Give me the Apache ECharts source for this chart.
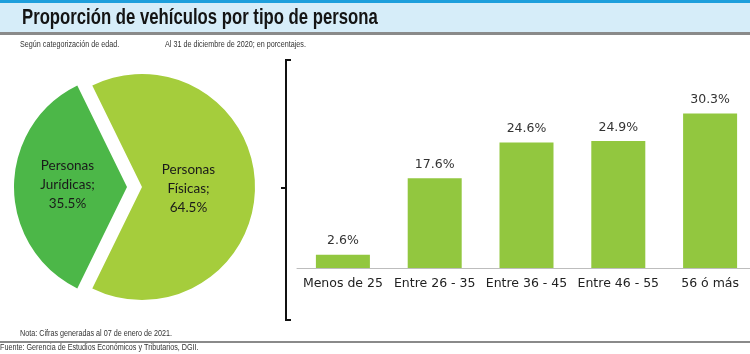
<!DOCTYPE html>
<html>
<head>
<meta charset="utf-8">
<script src="https://cdn.jsdelivr.net/npm/echarts@6/dist/echarts.min.js"></script>
<style>
  html, body { margin: 0; padding: 0; background: #fff; }
  #chart { width: 750px; height: 354px; }
</style>
</head>
<body>
<div id="chart"></div>
<script>
// tipos de persona (pastel)
var tipoNombres = ['Personas\nFísicas;', 'Personas\nJurídicas;'];
var tipoValores = [64.5, 35.5];

// rangos de edad (barras)
var edades = ['Menos de 25', 'Entre 26 - 35', 'Entre 36 - 45', 'Entre 46 - 55', '56 ó más'];
var edadValores = [2.6, 17.6, 24.6, 24.9, 30.3];

var chart = echarts.init(document.getElementById('chart'));

var sans = '"Liberation Sans", Arial, sans-serif';

// texto pequeño condensado (no hay fuente narrow instalada)
function smallText(x, y, txt) {
  return {
    type: 'text', x: x, y: y, scaleX: 0.8,
    style: { text: txt, font: '9px ' + sans, fill: '#333', textVerticalAlign: 'middle' }
  };
}

chart.setOption({
  animation: false,
  graphic: [
    // cabecera
    { type: 'rect', shape: { x: 0, y: 0, width: 750, height: 3 }, style: { fill: '#1e9fdc' } },
    { type: 'rect', shape: { x: 0, y: 3, width: 750, height: 29 }, style: { fill: '#d6edf9' } },
    { type: 'rect', shape: { x: 0, y: 32, width: 750, height: 3 }, style: { fill: '#8a8a8a' } },
    { type: 'text', x: 22, y: 18, scaleX: 0.76, style: {
        text: 'Proporción de vehículos por tipo de persona',
        font: 'bold 22px ' + sans, fill: '#141414', textVerticalAlign: 'middle'
      } },
    smallText(20, 45, 'Según categorización de edad.'),
    smallText(165, 45, 'Al 31 de diciembre de 2020; en porcentajes.'),
    // llave
    { type: 'polyline', shape: { points: [[291, 60], [286, 60], [286, 320], [291, 320]] },
      style: { stroke: '#111', lineWidth: 2, fill: null } },
    { type: 'line', shape: { x1: 281, y1: 188, x2: 286, y2: 188 }, style: { stroke: '#111', lineWidth: 2 } },
    // pie de página
    smallText(20, 334, 'Nota: Cifras generadas al 07 de enero de 2021.'),
    { type: 'rect', shape: { x: 0, y: 341, width: 750, height: 2 }, style: { fill: '#8a8a8a' } },
    smallText(0, 348, 'Fuente: Gerencia de Estudios Económicos y Tributarios, DGII.')
  ],
  grid: { left: 297, width: 459, top: 64, bottom: 86, outerBoundsMode: 'none', containLabel: false },
  xAxis: {
    type: 'category',
    data: edades,
    axisLine: { lineStyle: { color: '#bdbdbd', width: 1 } },
    axisTick: { show: false },
    axisLabel: { color: '#222', fontFamily: 'DejaVu Sans', fontSize: 12.5, margin: 9, interval: 0 }
  },
  yAxis: { type: 'value', min: 0, max: 40, show: false, splitLine: { show: false } },
  series: [
    {
      type: 'pie',
      center: [142, 187],
      radius: 113,
      startAngle: 116.1,
      clockwise: true,
      selectedMode: 'single',
      selectedOffset: 15,
      label: {
        position: 'inside',
        color: '#1a1a1a',
        fontFamily: 'Lato, "Open Sans", sans-serif',
        fontSize: 13.5,
        lineHeight: 19,
        formatter: function (p) { return p.name + '\n' + p.value.toFixed(1) + '%'; }
      },
      labelLayout: function (p) {
        return p.dataIndex === 0 ? { dx: -13, dy: 2 } : { dy: -2 };
      },
      labelLine: { show: false },
      emphasis: { disabled: true },
      data: [
        { name: tipoNombres[0], value: tipoValores[0], itemStyle: { color: '#a5cd3c' } },
        { name: tipoNombres[1], value: tipoValores[1], selected: true, itemStyle: { color: '#4cb748' } }
      ]
    },
    {
      type: 'bar',
      data: edadValores,
      barWidth: 54,
      itemStyle: { color: '#92c73f' },
      label: {
        show: true,
        position: 'top',
        distance: 7,
        color: '#333',
        fontFamily: 'DejaVu Sans',
        fontSize: 12.5,
        formatter: function (p) { return p.value.toFixed(1) + '%'; }
      },
      emphasis: { disabled: true }
    }
  ]
});
</script>
</body>
</html>
